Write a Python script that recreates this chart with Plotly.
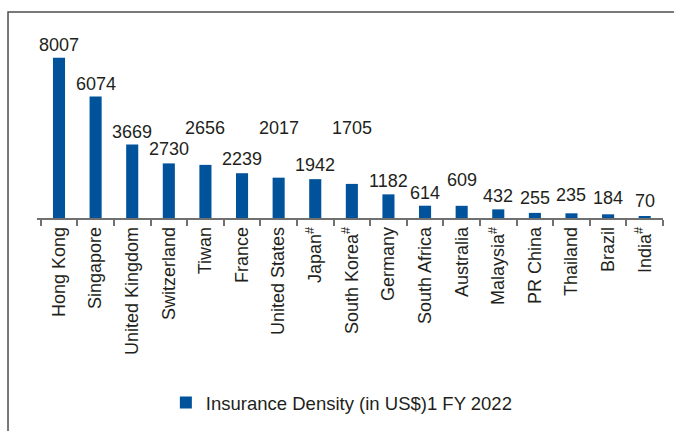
import plotly.graph_objs as go

countries = [
    'Hong Kong', 'Singapore', 'United Kingdom', 'Switzerland', 'Tiwan',
    'France', 'United States', 'Japan<sup>#</sup>', 'South Korea<sup>#</sup>',
    'Germany', 'South Africa', 'Australia', 'Malaysia<sup>#</sup>',
    'PR China', 'Thailand', 'Brazil', 'India<sup>#</sup>',
]
density = [8007, 6074, 3669, 2730, 2656, 2239, 2017, 1942, 1705,
           1182, 614, 609, 432, 255, 235, 184, 70]

# extra lift (px) for the value labels that sit higher in the source
label_lift = [0, 0, 0, 1, 24, 1, 37, 1, 43, 0, 0, 13, 0, 2, 5, 3, 3]

BLUE = '#00529B'
TEXT = '#231F20'
FONT = 'Liberation Sans, Arial, Helvetica, sans-serif'

fig = go.Figure(
    data=[
        go.Bar(
            name='Insurance Density (in US$)1 FY 2022',
            x=countries,
            y=density,
            marker={'color': BLUE, 'line': {'width': 0}},
        )
    ]
)

for c, v, lift in zip(countries, density, label_lift):
    fig.add_annotation(
        x=c, y=v, text=str(v), showarrow=False,
        yanchor='middle', yshift=13 + lift,
        font={'size': 18, 'color': TEXT, 'family': FONT},
    )

# frame around the chart (top and left edges visible in the source)
fig.add_shape(
    type='rect', xref='paper', yref='paper',
    x0=-0.0463, x1=1.05, y0=-1.2, y1=1.0952,
    line={'color': '#4d4d4d', 'width': 1.5},
)

fig.update_layout(
    width=674,
    height=431,
    margin={'l': 37, 'r': 11, 't': 30, 'b': 212},
    paper_bgcolor='white',
    plot_bgcolor='white',
    font={'family': FONT, 'size': 18, 'color': TEXT},
    bargap=0.67,
    showlegend=True,
    legend={
        'orientation': 'h',
        'x': 0.487, 'xanchor': 'center',
        'y': -0.973, 'yanchor': 'middle',
        'font': {'size': 18.5, 'color': TEXT},
        'itemwidth': 30,
    },
    xaxis={
        'tickangle': -90,
        'showline': True,
        'linecolor': '#707070',
        'linewidth': 1.5,
        'ticks': 'outside',
        'tickson': 'boundaries',
        'ticklen': 6,
        'tickwidth': 1.5,
        'tickcolor': '#707070',
        'showgrid': False,
        'tickfont': {'size': 18, 'color': TEXT},
    },
    yaxis={
        'range': [0, 9400],
        'visible': False,
        'showgrid': False,
    },
)

fig.write_html(
    'out.html',
    config={'displayModeBar': False},
    post_script="document.body.style.margin='0';document.body.style.overflow='hidden';",
)
